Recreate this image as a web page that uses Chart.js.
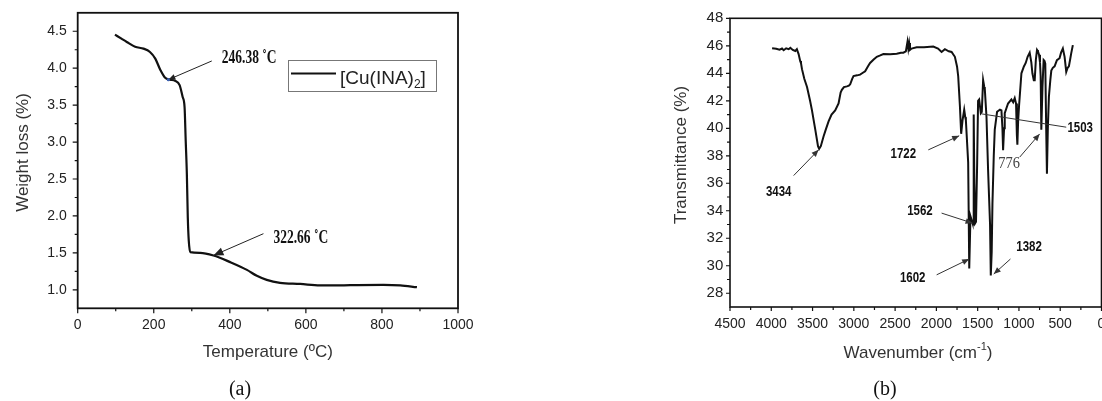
<!DOCTYPE html>
<html><head><meta charset="utf-8">
<script src="https://cdn.jsdelivr.net/npm/chart.js@4.4.0/dist/chart.umd.min.js"></script>
<style>
html,body{margin:0;padding:0;background:#fff;}
#wrap{position:relative;width:1102px;height:401px;overflow:hidden;background:#fff;}
#c1{position:absolute;left:0;top:0;}
#c2{position:absolute;left:660px;top:0;}
.cap{position:absolute;top:388px;font-family:"Liberation Serif","Times New Roman",serif;font-size:20px;color:#111;transform:translate(-50%,-50%);white-space:nowrap;}
</style></head><body>
<div id="wrap">
<canvas id="c1" width="540" height="401"></canvas>
<canvas id="c2" width="470" height="401"></canvas>
<div class="cap" style="left:240px;">(a)</div>
<div class="cap" style="left:885px;">(b)</div>
</div>
<script>
// ---------- DATA ----------
const tgaTemp   = [98,115,129,151,173,190,204,217,230,243,256,268,276,281,284,287,289.5,292,296,322,357,401,445,471,497,532,585,637,673,717,804,848,892];
const tgaWeight = [4.455,4.40,4.355,4.29,4.265,4.22,4.13,3.98,3.87,3.845,3.83,3.77,3.61,3.475,3.02,2.57,1.98,1.67,1.51,1.50,1.465,1.375,1.27,1.19,1.135,1.095,1.08,1.06,1.06,1.063,1.067,1.06,1.036];
const tgaXTicks = [0,200,400,600,800,1000];
const tgaXMinor = [100,300,500,700,900];
const tgaYTicks = [1.0,1.5,2.0,2.5,3.0,3.5,4.0,4.5];
const tgaYMinor = [1.25,1.75,2.25,2.75,3.25,3.75,4.25];
const tgaLabel = '[Cu(INA)';
const tgaLabelSub = '2';

const irWave  = [3990,3940,3900,3870,3850,3820,3790,3769,3740,3709,3690,3669,3650,3640,3628,3600,3567,3530,3507,3467,3434,3420,3400,3367,3340,3306,3270,3226,3185,3160,3145,3120,3084,3060,3044,3020,3004,2960,2924,2900,2863,2830,2803,2760,2722,2680,2642,2560,2480,2430,2400,2370,2350,2340,2330,2320,2300,2239,2150,2038,1980,1937,1897,1850,1816,1776,1750,1736,1715,1700,1690,1683,1663,1650,1643,1615,1602,1595,1587,1567,1562,1555,1548,1540,1530,1520,1506,1495,1482,1462,1450,1434,1420,1414,1393,1374,1362,1350,1341,1330,1321,1305,1293,1265,1230,1212,1200,1192,1180,1172,1132,1091,1070,1051,1035,1025,1019,1010,999,970,940,918,895,870,850,837,820,809,795,781,770,757,745,737,729,715,701,690,681,670,661,650,637,620,608,590,568,540,508,490,468,447,427,410,395,380,367,347];
const irTrans = [45.82,45.78,45.72,45.8,45.68,45.82,45.75,45.85,45.7,45.62,45.75,45.4,44.9,44.73,44.3,43.6,43.0,42.0,41.3,39.9,38.7,38.5,38.7,39.4,39.9,40.5,41.0,41.3,41.8,42.6,42.8,43.0,43.05,43.1,43.2,43.6,43.8,43.85,43.9,44.0,44.15,44.5,44.75,45.0,45.2,45.3,45.4,45.38,45.42,45.5,45.5,45.6,46.3,45.8,46.2,45.7,45.8,45.9,45.9,45.94,45.8,45.55,45.75,45.6,45.55,45.2,44.5,43.8,41.6,39.6,39.6,40.6,41.35,40.8,40.6,37.5,29.8,29.8,33.6,33.2,33.1,33.0,41.0,36.0,33.1,33.2,37.5,42.0,42.1,41.1,41.2,43.5,43.0,42.9,40.8,37.0,35.0,33.0,29.3,31.0,34.5,38.0,39.9,41.2,41.35,41.3,40.0,38.4,40.0,41.1,41.8,42.1,41.9,42.2,41.8,39.5,38.8,40.5,41.6,44.0,44.5,44.75,45.2,45.5,44.8,44.0,43.5,43.5,45.0,45.7,45.6,45.35,44.8,43.8,39.9,43.0,44.97,44.9,44.7,40.0,36.7,40.0,42.3,43.5,44.2,44.4,44.5,44.95,45.1,45.5,45.8,45.2,44.1,44.4,44.5,45.0,45.45,46.05];
const irXTicks = [4500,4000,3500,3000,2500,2000,1500,1000,500,0];
const irXMinor = [4250,3750,3250,2750,2250,1750,1250,750,250];
const irYTicks = [28,30,32,34,36,38,40,42,44,46,48];
const irYMinor = [29,31,33,35,37,39,41,43,45,47];

// annotations (label text, label anchor, arrow start, arrow tip, in data units)
const tgaNotes = [
  {text:'246.38 \u02DAC', tx:379, ty:4.07, x1:352.6, y1:4.098, x2:238.4, y2:3.845, head:7},
  {text:'322.66 \u02DAC', tx:514.7, ty:1.631, x1:488.4, y1:1.76, x2:356.8, y2:1.465, head:10}
];
const irNotes = [
  {text:'3434', tx:3910, ty:35.35, x1:3729, y1:36.56, x2:3427, y2:38.43, head:7},
  {text:'1722', tx:2400, ty:38.12, x1:2098, y1:38.43, x2:1724, y2:39.45, head:7},
  {text:'1562', tx:2199, ty:33.94, x1:1937, y1:33.83, x2:1562, y2:33.1, head:7},
  {text:'1602', tx:2287, ty:29.1, x1:1997, y1:29.34, x2:1603, y2:30.49, head:7},
  {text:'1382', tx:878, ty:31.36, x1:1103, y1:30.49, x2:1305, y2:29.4, head:7},
  {text:'776', tx:1120, ty:37.41, x1:991, y1:37.9, x2:749, y2:39.59, head:7, serif:true},
  {text:'1503', tx:258, ty:40.0, x1:427, y1:40.08, x2:1453, y2:41.05, head:0}
];

// ---------- HELPERS ----------
const SANS = '"Liberation Sans", Arial, Helvetica, sans-serif';
const SERIF = '"Liberation Serif", "Times New Roman", serif';

function arrow(ctx, x1, y1, x2, y2, head, color){
  ctx.save();
  ctx.strokeStyle = color; ctx.fillStyle = color; ctx.lineWidth = 1;
  ctx.beginPath(); ctx.moveTo(x1, y1); ctx.lineTo(x2, y2); ctx.stroke();
  if (head > 0){
    const a = Math.atan2(y2 - y1, x2 - x1), L = head, W = head * 0.42;
    const bx = x2 - L * Math.cos(a), by = y2 - L * Math.sin(a);
    ctx.beginPath(); ctx.moveTo(x2, y2);
    ctx.lineTo(bx + W * Math.sin(a), by - W * Math.cos(a));
    ctx.lineTo(bx - W * Math.sin(a), by + W * Math.cos(a));
    ctx.closePath(); ctx.fill();
  }
  ctx.restore();
}
function condText(ctx, text, x, y, font, sx, align, base, color){
  ctx.save(); ctx.translate(x, y); ctx.scale(sx, 1);
  ctx.font = font; ctx.textAlign = align; ctx.textBaseline = base; ctx.fillStyle = color;
  ctx.fillText(text, 0, 0); ctx.restore();
}
function drawTicks(chart, xMaj, xMin, yMaj, yMin, majLen, minLen){
  const {ctx, chartArea:a, scales:{x, y}} = chart;
  ctx.save(); ctx.strokeStyle = '#111'; ctx.lineWidth = 1.2; ctx.beginPath();
  xMaj.forEach(v => { const p = x.getPixelForValue(v); ctx.moveTo(p, a.bottom); ctx.lineTo(p, a.bottom + majLen); });
  xMin.forEach(v => { const p = x.getPixelForValue(v); ctx.moveTo(p, a.bottom); ctx.lineTo(p, a.bottom + minLen); });
  yMaj.forEach(v => { const p = y.getPixelForValue(v); ctx.moveTo(a.left, p); ctx.lineTo(a.left - majLen, p); });
  yMin.forEach(v => { const p = y.getPixelForValue(v); ctx.moveTo(a.left, p); ctx.lineTo(a.left - minLen, p); });
  ctx.stroke(); ctx.restore();
}
function frame(chart, w){
  const {ctx, chartArea:a} = chart;
  ctx.save(); ctx.strokeStyle = '#111'; ctx.lineWidth = w;
  ctx.strokeRect(a.left, a.top, a.right - a.left, a.bottom - a.top); ctx.restore();
}
function fixedAxis(size, horizontal){
  return function(scale){
    if (horizontal){ scale.height = size; scale.paddingLeft = 0; scale.paddingRight = 0; }
    else { scale.width = size; scale.paddingTop = 0; scale.paddingBottom = 0; }
  };
}

// ---------- CHART (a) ----------
const tgaPlugin = {
  id: 'tgaDeco',
  afterDraw(chart){
    const {ctx, chartArea:a, scales:{x, y}} = chart;
    frame(chart, 1.8);
    drawTicks(chart, tgaXTicks, tgaXMinor, tgaYTicks, tgaYMinor, 5, 3);
    // axis titles
    ctx.save(); ctx.fillStyle = '#333'; ctx.font = '17px ' + SANS; ctx.textAlign = 'center'; ctx.textBaseline = 'middle';
    ctx.fillText('Temperature (\u00BAC)', (a.left + a.right) / 2, 352);
    ctx.translate(23.5, 152.5); ctx.rotate(-Math.PI / 2); ctx.fillText('Weight loss (%)', 0, 0);
    ctx.restore();
    // annotations
    tgaNotes.forEach(n => {
      arrow(ctx, x.getPixelForValue(n.x1), y.getPixelForValue(n.y1), x.getPixelForValue(n.x2), y.getPixelForValue(n.y2), n.head, '#222');
      condText(ctx, n.text, x.getPixelForValue(n.tx), y.getPixelForValue(n.ty), 'bold 18px ' + SERIF, 0.75, 'left', 'alphabetic', '#111');
    });
    // small blue marker at first arrow tip
    ctx.save(); ctx.fillStyle = '#3a5fb0'; ctx.beginPath();
    ctx.arc(x.getPixelForValue(tgaNotes[0].x2), y.getPixelForValue(tgaNotes[0].y2), 1.6, 0, Math.PI * 2); ctx.fill(); ctx.restore();
    // legend
    ctx.save();
    ctx.strokeStyle = '#777'; ctx.lineWidth = 1; ctx.strokeRect(288.5, 60.5, 148, 31);
    ctx.strokeStyle = '#111'; ctx.lineWidth = 2; ctx.beginPath(); ctx.moveTo(291, 73.5); ctx.lineTo(336, 73.5); ctx.stroke();
    ctx.fillStyle = '#222'; ctx.textBaseline = 'alphabetic'; ctx.textAlign = 'left';
    ctx.font = '19px ' + SANS; let lx = 340;
    ctx.fillText(tgaLabel, lx, 83.5); lx += ctx.measureText(tgaLabel).width;
    ctx.font = '12px ' + SANS; ctx.fillText(tgaLabelSub, lx, 88); lx += ctx.measureText(tgaLabelSub).width;
    ctx.font = '19px ' + SANS; ctx.fillText(']', lx, 83.5);
    ctx.restore();
  }
};

new Chart(document.getElementById('c1'), {
  type: 'line',
  data: { datasets: [{
    data: tgaTemp.map((t, i) => ({x: t, y: tgaWeight[i]})),
    borderColor: '#111', borderWidth: 2.2, pointRadius: 0, fill: false,
    cubicInterpolationMode: 'monotone'
  }]},
  options: {
    responsive: false, animation: false, devicePixelRatio: 1,
    layout: { padding: {left: 0, right: 82, top: 12.8, bottom: 0} },
    plugins: { legend: {display: false}, tooltip: {enabled: false} },
    scales: {
      x: { type: 'linear', min: 0, max: 1000,
        afterBuildTicks: s => { s.ticks = tgaXTicks.map(v => ({value: v})); },
        afterFit: fixedAxis(92.7, true),
        grid: {display: false, drawTicks: false}, border: {display: false},
        ticks: {autoSkip: false, maxRotation: 0, padding: 8, color: '#222', font: {family: SANS, size: 14}, callback: v => String(v)} },
      y: { type: 'linear', min: 0.75, max: 4.75,
        afterBuildTicks: s => { s.ticks = tgaYTicks.map(v => ({value: v})); },
        afterFit: fixedAxis(77.7, false),
        grid: {display: false, drawTicks: false}, border: {display: false},
        ticks: {autoSkip: false, padding: 11, color: '#222', font: {family: SANS, size: 14}, callback: v => Number(v).toFixed(1)} }
    }
  },
  plugins: [tgaPlugin]
});

// ---------- CHART (b) ----------
const irPlugin = {
  id: 'irDeco',
  afterDraw(chart){
    const {ctx, chartArea:a, scales:{x, y}} = chart;
    frame(chart, 1.6);
    drawTicks(chart, irXTicks, irXMinor, irYTicks, irYMinor, 4, 3);
    ctx.save(); ctx.fillStyle = '#333'; ctx.textBaseline = 'middle';
    // x title with superscript
    const t1 = 'Wavenumber (cm', t2 = '-1', t3 = ')';
    ctx.font = '17px ' + SANS; const w1 = ctx.measureText(t1).width, w3 = ctx.measureText(t3).width;
    ctx.font = '11px ' + SANS; const w2 = ctx.measureText(t2).width;
    let sx = 258 - (w1 + w2 + w3) / 2;
    ctx.textAlign = 'left';
    ctx.font = '17px ' + SANS; ctx.fillText(t1, sx, 353); sx += w1;
    ctx.font = '11px ' + SANS; ctx.fillText(t2, sx, 347); sx += w2;
    ctx.font = '17px ' + SANS; ctx.fillText(t3, sx, 353);
    ctx.textAlign = 'center'; ctx.font = '17px ' + SANS;
    ctx.translate(21, 155); ctx.rotate(-Math.PI / 2); ctx.fillText('Transmittance (%)', 0, 0);
    ctx.restore();
    irNotes.forEach(n => {
      arrow(ctx, x.getPixelForValue(n.x1), y.getPixelForValue(n.y1), x.getPixelForValue(n.x2), y.getPixelForValue(n.y2), n.head, '#333');
      if (n.serif) condText(ctx, n.text, x.getPixelForValue(n.tx), y.getPixelForValue(n.ty), '16px ' + SERIF, 0.9, 'center', 'middle', '#444');
      else condText(ctx, n.text, x.getPixelForValue(n.tx), y.getPixelForValue(n.ty), 'bold 14px ' + SANS, 0.82, 'center', 'middle', '#111');
    });
  }
};

new Chart(document.getElementById('c2'), {
  type: 'line',
  data: { datasets: [{
    data: irWave.map((w, i) => ({x: w, y: irTrans[i]})),
    borderColor: '#111', borderWidth: 2, pointRadius: 0, fill: false, tension: 0
  }]},
  options: {
    responsive: false, animation: false, devicePixelRatio: 1,
    layout: { padding: {left: 0, right: 28.5, top: 18.3, bottom: 0} },
    plugins: { legend: {display: false}, tooltip: {enabled: false} },
    scales: {
      x: { type: 'linear', min: 0, max: 4500, reverse: true,
        afterBuildTicks: s => { s.ticks = irXTicks.map(v => ({value: v})); },
        afterFit: fixedAxis(94, true),
        grid: {display: false, drawTicks: false}, border: {display: false},
        ticks: {autoSkip: false, maxRotation: 0, padding: 8.5, color: '#222', font: {family: SANS, size: 14}, callback: v => String(v)} },
      y: { type: 'linear', min: 27, max: 48,
        afterBuildTicks: s => { s.ticks = irYTicks.map(v => ({value: v})); },
        afterFit: fixedAxis(70, false),
        grid: {display: false, drawTicks: false}, border: {display: false},
        ticks: {autoSkip: false, padding: 6.7, color: '#222', font: {family: SANS, size: 15}, callback: v => String(v)} }
    }
  },
  plugins: [irPlugin]
});
</script>
</body></html>
